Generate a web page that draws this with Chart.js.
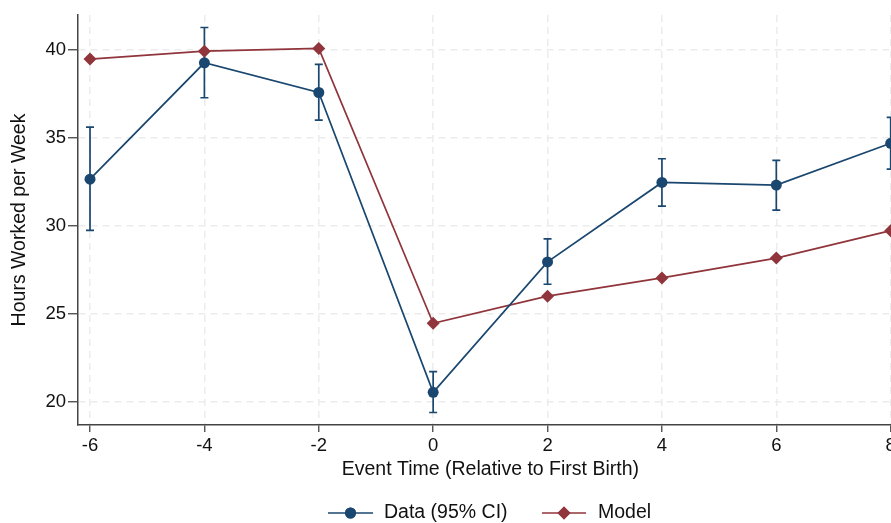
<!DOCTYPE html>
<html>
<head>
<meta charset="utf-8">
<script src="https://cdn.jsdelivr.net/npm/chart.js@4"></script>
<style>
  html, body { margin: 0; padding: 0; background: #fff; overflow: hidden; }
  #wrap { width: 920px; height: 523px; }
</style>
</head>
<body>
<div id="wrap"><canvas id="chart" width="920" height="523"></canvas></div>
<script>
// ─── DATA ─────────────────────────────────
const eventTime = [-6, -4, -2, 0, 2, 4, 6, 8];
const dataHours = [32.66, 39.28, 37.59, 20.53, 27.95, 32.47, 32.32, 34.7];
const ciLow = [29.74, 37.29, 36.02, 19.38, 26.68, 31.13, 30.9, 33.23];
const ciHigh = [35.62, 41.29, 39.19, 21.71, 29.26, 33.82, 33.73, 36.18];
const modelHours = [39.49, 39.94, 40.1, 24.46, 26.0, 27.04, 28.17, 29.73];
const xTicks = [-6, -4, -2, 0, 2, 4, 6, 8];
const yTicks = [20, 25, 30, 35, 40];

const NAVY = '#1a476f';
const MAROON = '#90353b';
const FONT = '"Liberation Sans", Arial, Helvetica, sans-serif';

// ─── ERROR BARS (95% CI) ─────────────────────────────────
const errorBars = {
  id: 'errorBars',
  beforeDatasetsDraw(chart) {
    const { ctx, scales: { x, y } } = chart;
    ctx.save();
    ctx.strokeStyle = NAVY;
    ctx.lineWidth = 1.7;
    eventTime.forEach((t, i) => {
      const px = x.getPixelForValue(t);
      const lo = y.getPixelForValue(ciLow[i]);
      const hi = y.getPixelForValue(ciHigh[i]);
      ctx.beginPath();
      ctx.moveTo(px, lo); ctx.lineTo(px, hi);
      ctx.moveTo(px - 4, lo); ctx.lineTo(px + 4, lo);
      ctx.moveTo(px - 4, hi); ctx.lineTo(px + 4, hi);
      ctx.stroke();
    });
    ctx.restore();
  }
};

// ─── LEGEND ─────────────────────────────────
const stataLegend = {
  id: 'stataLegend',
  afterDraw(chart) {
    const ctx = chart.ctx;
    const yMid = 513;
    const items = [
      { x0: 328, x1: 373, color: NAVY, style: 'circle', r: 5.5, label: 'Data (95% CI)', tx: 384 },
      { x0: 542, x1: 586, color: MAROON, style: 'rectRot', r: 6.5, label: 'Model', tx: 598 }
    ];
    ctx.save();
    items.forEach(it => {
      ctx.strokeStyle = it.color;
      ctx.lineWidth = 1.7;
      ctx.beginPath();
      ctx.moveTo(it.x0, yMid); ctx.lineTo(it.x1, yMid);
      ctx.stroke();
      ctx.fillStyle = it.color;
      Chart.helpers.drawPoint(ctx, { pointStyle: it.style, radius: it.r, borderWidth: 0, rotation: 0 }, (it.x0 + it.x1) / 2, yMid);
      ctx.fill();
      ctx.fillStyle = '#111';
      ctx.font = '19.5px ' + FONT;
      ctx.textBaseline = 'middle';
      ctx.textAlign = 'left';
      ctx.fillText(it.label, it.tx, yMid);
    });
    ctx.restore();
  }
};

const ctx = document.getElementById('chart').getContext('2d');
new Chart(ctx, {
  type: 'scatter',
  data: {
    datasets: [{
      label: 'Data (95% CI)',
      data: eventTime.map((t, i) => ({ x: t, y: dataHours[i] })),
      showLine: true,
      borderColor: NAVY,
      backgroundColor: NAVY,
      borderWidth: 1.7,
      pointStyle: 'circle',
      pointRadius: 5.5,
      pointBorderWidth: 0,
      order: 1
    }, {
      label: 'Model',
      data: eventTime.map((t, i) => ({ x: t, y: modelHours[i] })),
      showLine: true,
      borderColor: MAROON,
      backgroundColor: MAROON,
      borderWidth: 1.7,
      pointStyle: 'rectRot',
      pointRadius: 6.5,
      pointBorderWidth: 0,
      order: 2
    }]
  },
  options: {
    responsive: false,
    animation: false,
    layout: { padding: { top: 15, right: 17.3, bottom: 40, left: 0 } },
    plugins: {
      legend: { display: false },
      tooltip: { enabled: false }
    },
    scales: {
      x: {
        type: 'linear',
        min: -6.21, max: 8.21,
        afterBuildTicks: s => { s.ticks = xTicks.map(v => ({ value: v })); },
        afterFit: s => { s.height = 58; },
        grid: { color: '#ececec', lineWidth: 1.5, tickColor: '#444', tickLength: 7, tickWidth: 1.3 },
        border: { color: '#444', width: 1.5, dash: [7, 5] },
        ticks: { color: '#111', padding: 3, font: { family: FONT, size: 18.5 } },
        title: { display: true, text: 'Event Time (Relative to First Birth)', color: '#111', padding: { top: 0, bottom: 2 }, font: { family: FONT, size: 19.5 } }
      },
      y: {
        min: 18.67, max: 42,
        afterBuildTicks: s => { s.ticks = yTicks.map(v => ({ value: v })); },
        afterFit: s => { s.width = 78; },
        grid: { color: '#ececec', lineWidth: 1.5, tickColor: '#444', tickLength: 10, tickWidth: 1.3 },
        border: { color: '#444', width: 1.5, dash: [7, 5] },
        ticks: { color: '#111', padding: 2, font: { family: FONT, size: 18.5 } },
        title: { display: true, text: 'Hours Worked per Week', color: '#111', padding: { top: 8, bottom: 0 }, font: { family: FONT, size: 19.5 } }
      }
    }
  },
  plugins: [errorBars, stataLegend]
});
</script>
</body>
</html>
